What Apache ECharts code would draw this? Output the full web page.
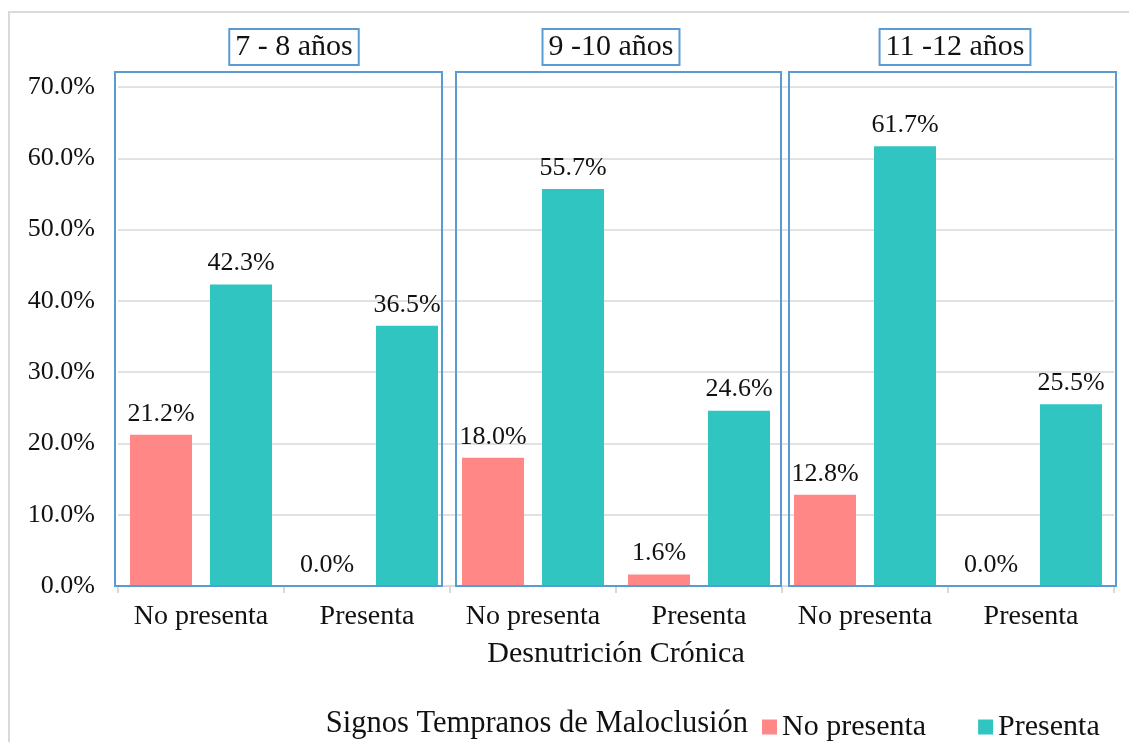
<!DOCTYPE html>
<html>
<head>
<meta charset="utf-8">
<script src="https://cdn.jsdelivr.net/npm/echarts@6/dist/echarts.min.js"></script>
<style>
  html, body { margin: 0; padding: 0; background: #fff; }
  #chart { width: 1129px; height: 742px; }
</style>
</head>
<body>
<div id="chart"></div>
<script>
// Age groups and the two levels of chronic malnutrition inside each group
const ageGroups = ['7 - 8 años', '9 -10 años', '11 -12 años'];
const levels = ['No presenta', 'Presenta'];

// Percentages by early malocclusion signs (per category, in group order)
const noPresentaValues = [21.2, 0.0, 18.0, 1.6, 12.8, 0.0];
const presentaValues = [42.3, 36.5, 55.7, 24.6, 61.7, 25.5];

// Y axis ticks (percent)
const yTicks = [0, 10, 20, 30, 40, 50, 60, 70];

const seriesNames = ['No presenta', 'Presenta'];
const colors = ['#FF8886', '#31C5C2'];
const frameBlue = '#5B9BD5';
const serif = '"Liberation Serif", "DejaVu Serif", serif';

// One category per (group, level) pair; the key keeps duplicates distinct
const categories = [];
ageGroups.forEach((g, gi) => levels.forEach(l => categories.push(gi + '|' + l)));

const chart = echarts.init(document.getElementById('chart'));

const labelStyle = {
  show: true,
  position: 'top',
  distance: 8,
  color: '#111',
  fontFamily: serif,
  fontSize: 26,
  formatter: p => p.value.toFixed(1) + '%'
};

chart.setOption({
  animation: false,
  backgroundColor: '#fff',
  grid: { left: 118, right: 15, top: 87, bottom: 156, containLabel: false },
  xAxis: {
    type: 'category',
    data: categories,
    name: 'Desnutrición Crónica',
    nameLocation: 'middle',
    nameGap: 53,
    nameTextStyle: { fontFamily: serif, fontSize: 30, color: '#111' },
    axisLine: { lineStyle: { color: '#d9d9d9', width: 1.5 } },
    axisTick: { show: true, length: 7, lineStyle: { color: '#d9d9d9', width: 2 } },
    axisLabel: {
      interval: 0,
      margin: 17,
      fontFamily: serif,
      fontSize: 28,
      color: '#111',
      formatter: v => v.split('|')[1]
    }
  },
  yAxis: {
    type: 'value',
    min: yTicks[0],
    max: yTicks[yTicks.length - 1],
    interval: yTicks[1] - yTicks[0],
    axisLine: { show: false },
    axisTick: { show: false },
    splitLine: { lineStyle: { color: '#d9d9d9', width: 1.5 } },
    axisLabel: {
      margin: 23,
      fontFamily: serif,
      fontSize: 26,
      color: '#111',
      formatter: v => v.toFixed(1) + '%'
    }
  },
  legend: {
    left: 757,
    top: 707,
    itemWidth: 15,
    itemHeight: 15,
    itemGap: 52,
    icon: 'rect',
    textStyle: { fontFamily: serif, fontSize: 30, color: '#111' },
    data: seriesNames
  },
  series: [
    {
      name: seriesNames[0],
      type: 'bar',
      data: noPresentaValues,
      barWidth: 62,
      barGap: '29%',
      itemStyle: { color: colors[0] },
      label: labelStyle
    },
    {
      name: seriesNames[1],
      type: 'bar',
      data: presentaValues,
      barWidth: 62,
      barGap: '29%',
      itemStyle: { color: colors[1] },
      label: labelStyle
    }
  ]
});

// Frames around each age group plus the boxed group titles, placed from the axis scale
const frameInsetLeft = [-3, 6, 7];
const frameInsetRight = [-8, -1, 2];
const titleShift = [10, -5, 7];

function drawFrames() {
  const c0 = chart.convertToPixel({ xAxisIndex: 0 }, 0);
  const c1 = chart.convertToPixel({ xAxisIndex: 0 }, 1);
  const band = c1 - c0;
  const yTop = chart.convertToPixel({ yAxisIndex: 0 }, yTicks[yTicks.length - 1]);
  const yBase = chart.convertToPixel({ yAxisIndex: 0 }, 0);
  const elements = [
    {
      type: 'rect',
      silent: true,
      z: -10,
      shape: { x: 9, y: 12, width: 1300, height: 900 },
      style: { fill: 'none', stroke: '#d9d9d9', lineWidth: 2 }
    },
    {
      type: 'text',
      silent: true,
      x: 748,
      y: 724,
      style: {
        text: 'Signos Tempranos de Maloclusión',
        font: '30.5px ' + serif,
        fill: '#111',
        align: 'right',
        verticalAlign: 'middle'
      }
    }
  ];
  ageGroups.forEach((g, gi) => {
    const start = chart.convertToPixel({ xAxisIndex: 0 }, gi * levels.length) - band / 2;
    const end = start + band * levels.length;
    const left = start + frameInsetLeft[gi];
    const right = end + frameInsetRight[gi];
    elements.push({
      type: 'rect',
      silent: true,
      z: 10,
      shape: { x: left, y: yTop - 15, width: right - left, height: yBase - yTop + 15 },
      style: { fill: 'none', stroke: frameBlue, lineWidth: 2 }
    });
    elements.push({
      type: 'text',
      silent: true,
      z: 10,
      x: (start + end) / 2 + titleShift[gi],
      y: 47,
      style: {
        text: g,
        font: '30px ' + serif,
        fill: '#111',
        align: 'center',
        verticalAlign: 'middle',
        borderColor: frameBlue,
        borderWidth: 2,
        padding: [3, 6, 3, 6]
      }
    });
  });
  chart.setOption({ graphic: elements });
}
drawFrames();
</script>
</body>
</html>
